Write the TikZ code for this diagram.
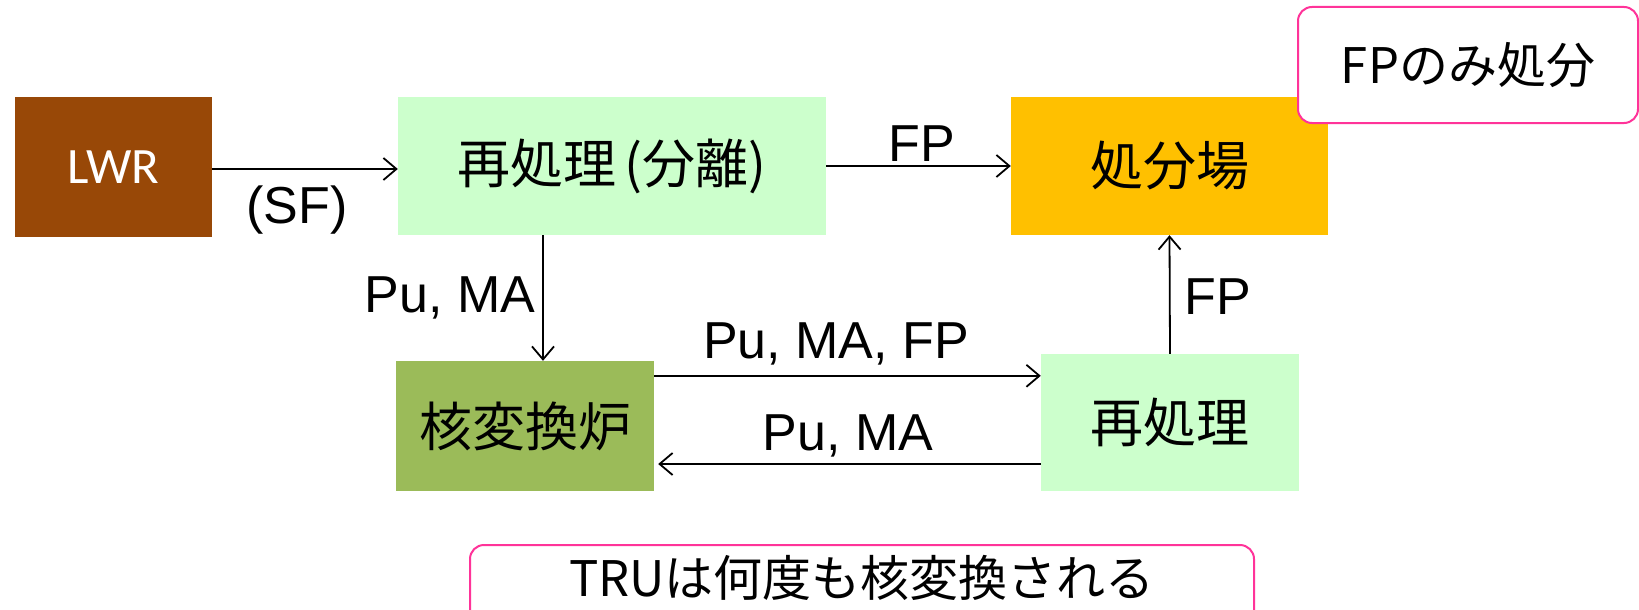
\documentclass[tikz,border=0pt]{standalone}
\usepackage{fontspec}
\setmainfont{Liberation Sans}
\newfontfamily\cjk{Noto Sans CJK JP}
\newfontfamily\calfont{Carlito}
\usetikzlibrary{arrows.meta}
\definecolor{lwrbrown}{HTML}{984807}
\definecolor{lightgreen}{HTML}{CCFFCC}
\definecolor{olivegreen}{HTML}{9BBB59}
\definecolor{amber}{HTML}{FFC000}
\definecolor{pinkline}{HTML}{FF3399}
\tikzset{
  box/.style={rectangle, inner sep=0pt, draw=none},
  arr/.style={line width=1.8pt, -{Straight Barb[length=13pt,width=22pt,line width=1.8pt]}},
  lbl/.style={inner sep=0pt, font=\fontsize{52}{60}\selectfont},
  jp/.style={font=\cjk\fontsize{53}{62}\selectfont},
  callout/.style={rectangle, rounded corners=14pt, draw=pinkline, line width=2pt, fill=white, inner sep=0pt}
}
\begin{document}
\begin{tikzpicture}[x=1pt,y=-1pt]
\useasboundingbox (0,0) rectangle (1639,610);
\fill[white] (0,0) rectangle (1639,610);
\node[box, fill=lwrbrown, minimum width=197pt, minimum height=140pt, text=white, font=\calfont\fontsize{51}{60}\selectfont] (lwr) at (113.5,167) {LWR};
\node[box, fill=lightgreen, minimum width=428pt, minimum height=138pt, jp] (rp1) at (612,166) {再処理\,(分離)};
\node[box, fill=amber, minimum width=317pt, minimum height=138pt, jp] (disp) at (1169.5,166) {処分場};
\node[box, fill=olivegreen, minimum width=258pt, minimum height=130pt, jp] (tr) at (525,426) {核変換炉};
\node[box, fill=lightgreen, minimum width=258pt, minimum height=137pt, jp] (rp2) at (1170,422.5) {再処理};
\node[callout, minimum width=340pt, minimum height=116pt, font=\cjk\fontsize{49}{58}\selectfont] (c1) at (1468,65) {FPのみ処分};
\draw[pinkline, line width=2pt, fill=white, rounded corners=14pt] (470,640) -- (470,545) -- (1254,545) -- (1254,640);
\node[inner sep=0pt, font=\cjk\fontsize{49}{58}\selectfont] (c2) at (862,578) {TRUは何度も核変換される};

\draw[arr] (lwr.east |- 0,169) -- (rp1.west |- 0,169);
\draw[arr] (rp1.east) -- (disp.west);
\draw[arr] ([xshift=-69pt]rp1.south) -- ([xshift=-69pt]rp1.south |- tr.north);
\draw[arr] ([yshift=-15pt]tr.north east) -- ([yshift=-15pt]tr.north east -| rp2.west);
\draw[arr] ([yshift=-41.5pt]rp2.west) -- ([yshift=-41.5pt,xshift=4pt]rp2.west -| tr.east);
\draw[arr] (rp2.north) -- (disp.south);

\node[lbl] (lsf) at (297,210) {(SF)};
\node[lbl] (lfp1) at (922,144) {FP};
\node[lbl] (lpuma1) at (450,298) {Pu, MA};
\node[lbl] (lpumafp) at (836,344) {Pu, MA, FP};
\node[lbl] (lpuma2) at (848,436) {Pu, MA};
\node[lbl] (lfp2) at (1218,297) {FP};
\end{tikzpicture}
\end{document}
